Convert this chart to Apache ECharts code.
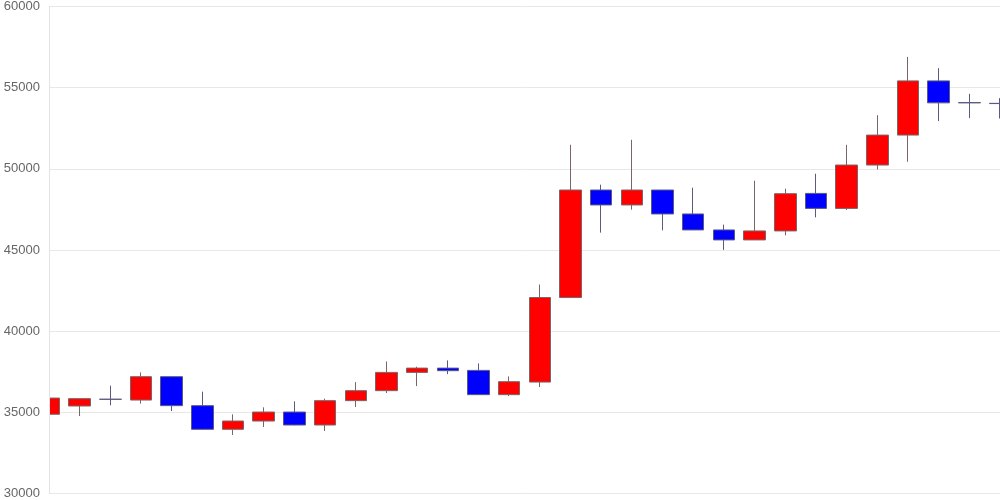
<!DOCTYPE html>
<html>
<head>
<meta charset="utf-8">
<script src="https://cdn.jsdelivr.net/npm/echarts@6/dist/echarts.min.js"></script>
<style>html,body{margin:0;padding:0;background:#fff}#c{width:1000px;height:500px}</style>
</head>
<body>
<div id="c"></div>
<script>
const categories = ['1','2','3','4','5','6','7','8','9','10','11','12','13','14','15','16','17','18','19','20','21','22','23','24','25','26','27','28','29','30','31','32'];
const openValues  = [34880,35390,35810,35756,37196,35412,33954,34465,35018,34219,35720,36335,37460,37724,37583,36088,36863,42072,48696,47774,48696,47220,46236,45621,46175,48487,47564,50234,52079,55418,54080,54035];
const closeValues = [35880,35843,35800,37196,35412,33954,34465,35018,34219,35720,36335,37460,37724,37565,36088,36888,42072,48696,47774,48696,47220,46236,45621,46175,48468,47564,50234,52079,55418,54065,54065,54020];
const lowValues   = [34850,34772,35430,35535,35080,33910,33604,34096,34200,33850,35326,36187,36617,37355,36080,36002,36556,42072,46070,47484,46211,46236,45006,45621,45904,47011,47466,49963,50436,52940,53124,53100];
const highValues  = [35900,35850,36642,37460,37200,36273,34877,35307,35676,35843,36863,38136,37810,38198,38013,37214,42872,51482,49022,51789,48696,48837,46562,49268,48776,49698,51482,53309,56894,56199,54618,54354];
const yTicks = [30000, 35000, 40000, 45000, 50000, 55000, 60000];

const ohlc = categories.map((c, i) => [openValues[i], closeValues[i], lowValues[i], highValues[i]]);

const chart = echarts.init(document.getElementById('c'));
chart.setOption({
  animation: false,
  grid: { left: 49, right: 0, top: 6, bottom: 6, containLabel: false },
  // white mask so the first candle is cut at the plot's left edge, as in the reference
  graphic: [{
    type: 'rect',
    left: 0, top: 0,
    shape: { width: 49, height: 500 },
    style: { fill: '#fff' },
    z: 5, silent: true
  }],
  xAxis: {
    type: 'category',
    data: categories,
    boundaryGap: false,
    axisLine: { show: false },
    axisTick: { show: false },
    axisLabel: { show: false },
    splitLine: { show: false }
  },
  yAxis: [{
    type: 'value',
    min: yTicks[0],
    max: yTicks[yTicks.length - 1],
    interval: 5000,
    axisLine: { show: false },
    axisTick: { show: false },
    axisLabel: { show: false },
    splitLine: { show: true, lineStyle: { color: '#e8e8e8' } }
  }, {
    type: 'value',
    position: 'left',
    z: 10,
    min: yTicks[0],
    max: yTicks[yTicks.length - 1],
    interval: 5000,
    axisLine: { show: true, lineStyle: { color: '#e3e3e3' } },
    axisTick: { show: false },
    axisLabel: {
      color: '#666', fontSize: 13, fontFamily: 'Liberation Sans, Arial, sans-serif', margin: 9,
      formatter: v => String(v)
    },
    splitLine: { show: false }
  }],
  series: [{
    type: 'candlestick',
    yAxisIndex: 0,
    data: ohlc,
    barWidth: 22,
    itemStyle: {
      color: '#ff0000',
      color0: '#0000ff',
      borderColor: '#7a6666',
      borderColor0: '#5a5a80',
      borderWidth: 1
    }
  }]
});
</script>
</body>
</html>
